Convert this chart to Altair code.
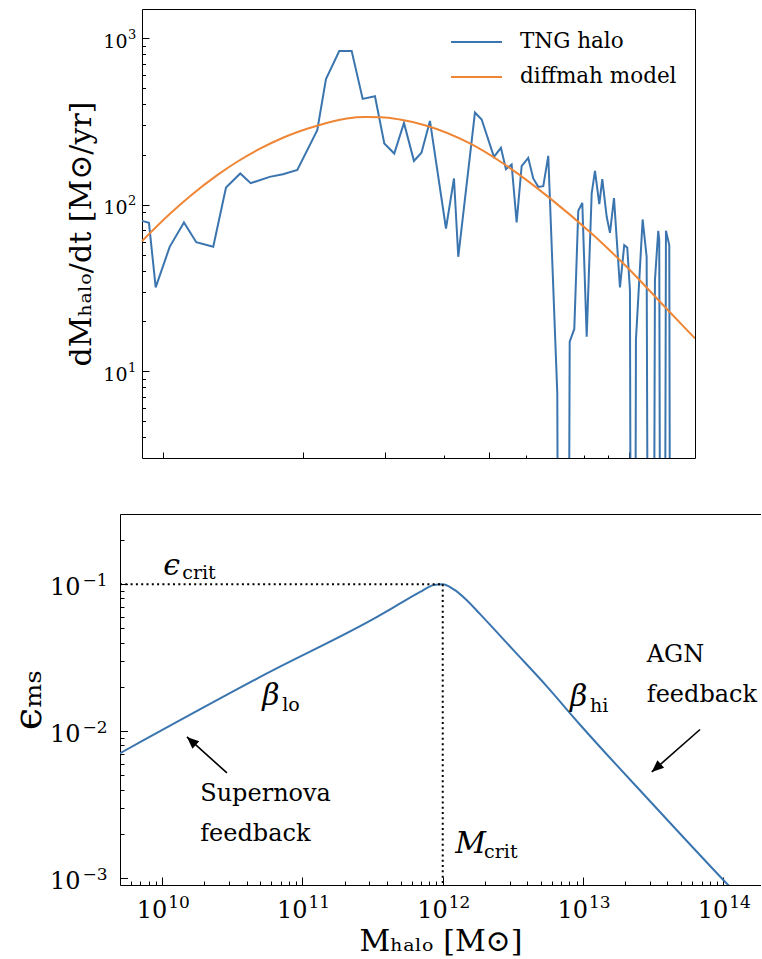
import altair as alt
import pandas as pd

# ---------------- top panel: halo mass accretion rate vs cosmic time ----------------
tng_time = [0.9015, 0.933, 0.9646, 1.0337, 1.1092, 1.1788, 1.2819, 1.3653, 1.4651, 1.5425,
            1.6941, 1.8094, 1.9422, 2.1434, 2.2376, 2.3893, 2.5406, 2.6827, 2.8506, 2.9853,
            3.1356, 3.2897, 3.4563, 3.5868, 3.7406, 4.0490, 4.2122, 4.3027, 4.6722, 4.8295,
            5.1318, 5.3123, 5.4451, 5.6005, 5.7410, 5.8843, 6.0795, 6.2321, 6.3884, 6.5487,
            6.7123, 7.0178, 7.1650, 7.3083, 7.4618, 7.6333, 7.7856, 7.9410, 8.1156, 8.3184,
            8.4552, 8.6369, 8.7659, 8.9587, 9.1060, 9.2879, 9.5652, 9.7705, 9.9163, 10.050,
            10.20, 10.352, 10.700, 10.914, 11.148, 11.371, 11.558, 11.615, 11.801, 12.007,
            12.205, 12.369, 12.8, 13.3, 13.86]
# 1e-6 marks snapshots with zero accretion (drawn below the axis, as in the original)
tng_rate = [79.9, 77.7, 31.8, 55.8, 78.2, 59.5, 55.8, 126.9, 153.9, 134.6,
            146.9, 152.5, 161.8, 280.2, 569.6, 839, 839, 432.0, 448.4, 233.2,
            203.0, 309.9, 183.3, 205.3, 318.6, 71.9, 143.7, 48.6, 357.9, 324.8,
            193.7, 219.4, 163.4, 174.4, 78.2, 170.3, 191.0, 143.7, 127.9, 129.2,
            196.4, 7.35, 1e-6, 1e-6, 15.0, 17.9, 91.8, 102.5, 16.1, 116.8,
            159.6, 100.7, 142.3, 84.5, 67.7, 109.4, 31.8, 57.1, 55.3, 30.6,
            1e-6, 15.4, 81.5, 48.6, 1e-6, 35.2, 69.6, 61.2, 1e-6, 69.6,
            57.1, 1e-6, 1e-6, 1e-6, 1e-6]

model_time = [0.9015, 1.0337, 1.1427, 1.3121, 1.4485, 1.6149, 1.8094, 2.1406, 2.4822, 2.7137,
              2.9373, 3.2253, 3.6493, 4.5580, 5.3729, 6.7123, 8.3837, 9.8869, 11.656, 13.86]
model_rate = [60.4, 87.9, 112.5, 151.4, 182.3, 216.9, 252.6, 298.2, 329.5, 336.3,
              335.4, 324.8, 300.2, 233.2, 176.8, 111.4, 65.6, 42.3, 26.1, 15.7]

series_names = ["TNG halo", "diffmah model"]

# ---------------- bottom panel: star-formation efficiency vs halo mass ----------------
halo_mass = [5.0e9, 5.575e10, 3.579e11, 4.970e11, 6.901e11, 8.586e11, 1.0e12, 1.192e12,
             1.485e12, 1.847e12, 3.191e12, 5.521e12, 9.535e12, 3.008e13, 1.088e14, 1.3e14]
efficiency = [0.00708, 0.0247, 0.0615, 0.0739, 0.0886, 0.0985, 0.100, 0.0925,
              0.0778, 0.0625, 0.0356, 0.0202, 0.01107, 0.003341, 0.000896, 0.00075]

crit_mass = [1.0e12]
crit_eff = [0.1]
mass_min = [5.0e9]
eff_min = [9.0e-4]

math_text = ["ϵ", "β", "β", "M"]
math_mass = [1.016e10, 5.16e10, 8.09e12, 1.226e12]
math_eff = [0.1151, 0.01503, 0.01479, 0.001479]
sub_text = ["crit", "lo", "hi", "crit"]
sub_mass = [1.389e10, 7.17e10, 1.123e13, 1.973e12]
sub_eff = [0.1081, 0.01368, 0.01347, 0.001368]

note_text = ["Supernova\nfeedback", "AGN\nfeedback"]
note_mass = [1.866e10, 2.849e13]
note_eff = [0.003342, 0.02947]

arrow_tail_mass = [2.893e10, 6.833e13]
arrow_tail_eff = [0.005204, 0.01027]
arrow_head_mass = [1.500e10, 3.094e13]
arrow_head_eff = [0.009146, 0.005285]

top_major_y = [10, 100, 1000]
top_minor_y = [4, 5, 6, 7, 8, 9, 20, 30, 40, 50, 60, 70, 80, 90,
               200, 300, 400, 500, 600, 700, 800, 900]
top_major_x = [1, 2, 3, 5, 10]
top_minor_x = [4, 6, 7, 8, 9]
bot_major_y = [1e-3, 1e-2, 1e-1]
bot_minor_y = [2e-3, 3e-3, 4e-3, 5e-3, 6e-3, 7e-3, 8e-3, 9e-3,
               2e-2, 3e-2, 4e-2, 5e-2, 6e-2, 7e-2, 8e-2, 9e-2, 0.2]
bot_major_x = [1e10, 1e11, 1e12, 1e13, 1e14]
bot_minor_x = [6e9, 7e9, 8e9, 9e9,
               2e10, 3e10, 4e10, 5e10, 6e10, 7e10, 8e10, 9e10,
               2e11, 3e11, 4e11, 5e11, 6e11, 7e11, 8e11, 9e11,
               2e12, 3e12, 4e12, 5e12, 6e12, 7e12, 8e12, 9e12,
               2e13, 3e13, 4e13, 5e13, 6e13, 7e13, 8e13, 9e13]

# ---------------- styling ----------------
BLUE = "#3b75af"
ORANGE = "#ee8636"
SERIF = "DejaVu Serif"
EXP = "format(round(log(datum.value) / LN10), 'd')"


def axis(**kw):
    base = dict(grid=False, title=None, labels=False, ticks=False, domain=False,
                domainColor="black", domainWidth=1, tickColor="black", tickWidth=1,
                labelColor="black", titleColor="black", labelFlush=False, labelOverlap=False)
    base.update(kw)
    return alt.Axis(**base)


# ================= top panel =================
TW, TH = 575, 449
x_top = alt.Scale(type="log", domain=[0.9015, 13.86], range=[22, TW], nice=False)
y_top = alt.Scale(type="log", domain=[3, 1500], nice=False)

ty_major = axis(orient="left", offset=-22, values=top_major_y, ticks=True, tickSize={"expr": "-7"},
                domain=True, labels=True, labelExpr="'10'", labelFont=SERIF, labelFontSize=19,
                labelAlign="right", labelBaseline="middle", labelPadding=22, labelOffset=3,
                title="dMₕₐₗₒ/dt [M⊙/yr]", titleFont=SERIF, titleFontSize=30,
                titleFontWeight="normal", titleAngle=270, titleX=-52, titleY=TH / 2,
                titleAlign="center", titleBaseline="alphabetic")
ty_exp = axis(orient="left", offset=-22, values=top_major_y, labels=True, labelExpr=EXP,
              labelFont=SERIF, labelFontSize=13, labelAlign="left", labelBaseline="middle",
              labelPadding=14.5, labelOffset=-4)
ty_minor = axis(orient="left", offset=-22, values=top_minor_y, ticks=True, tickSize={"expr": "-3.5"})
ty_right = axis(orient="right", domain=True)
tx_major = axis(orient="bottom", values=top_major_x, ticks=True, tickSize={"expr": "-6"}, domain=True)
tx_minor = axis(orient="bottom", values=top_minor_x, ticks=True, tickSize={"expr": "-3"})
tx_top = axis(orient="top", domain=True)

tng_df = pd.DataFrame({"t": tng_time, "rate": tng_rate, "series": series_names[0]})
mod_df = pd.DataFrame({"t": model_time, "rate": model_rate, "series": series_names[1]})


def tx(ax):
    return alt.X("t:Q", scale=x_top, axis=ax)


def ty(ax):
    return alt.Y("rate:Q", scale=y_top, axis=ax)


color = alt.Color(
    "series:N",
    scale=alt.Scale(domain=series_names, range=[BLUE, ORANGE]),
    legend=alt.Legend(orient="none", legendX=330, legendY=20.5, title=None, symbolType="stroke",
                      symbolSize=2601, symbolStrokeWidth=2, clipHeight=25, rowPadding=10,
                      labelFont=SERIF, labelFontSize=21.5, labelColor="black", labelOffset=17,
                      padding=0),
)

t1 = alt.Chart(tng_df).mark_line(strokeWidth=2, clip=True).encode(
    x=tx(tx_major), y=ty(ty_major), color=color)
t2 = alt.Chart(mod_df).mark_line(strokeWidth=2, clip=True, interpolate="monotone").encode(
    x=tx(tx_minor), y=ty(ty_exp), color=color)
t3 = alt.Chart(mod_df).mark_line(opacity=0).encode(x=tx(tx_top), y=ty(ty_minor))
t4 = alt.Chart(mod_df).mark_line(opacity=0).encode(x=tx(None), y=ty(ty_right))

top = alt.layer(t1, t2, t3, t4).resolve_axis(x="independent", y="independent").properties(
    width=TW, height=TH)

# ================= bottom panel =================
BW, BH = 641, 371
x_bot = alt.Scale(type="log", domain=[5e9, 1.859e14], nice=False)
y_bot = alt.Scale(type="log", domain=[9e-4, 0.3], nice=False)

by_major = axis(orient="left", values=bot_major_y, ticks=True, tickSize={"expr": "-7.5"},
                domain=True, labels=True, labelExpr="'10'", labelFont=SERIF, labelFontSize=24,
                labelAlign="right", labelBaseline="middle", labelPadding=47.5, labelOffset=3.5,
                title="ϵₘₛ", titleFont=SERIF, titleFontSize=40, titleFontWeight="normal",
                titleAngle=270, titleX=-80, titleY=BH / 2, titleAlign="center",
                titleBaseline="alphabetic")
by_exp = axis(orient="left", values=bot_major_y, labels=True, labelExpr=EXP, labelFont=SERIF,
              labelFontSize=17, labelAlign="left", labelBaseline="middle", labelPadding=38,
              labelOffset=-4)
by_minor = axis(orient="left", values=bot_minor_y, ticks=True, tickSize={"expr": "-4"})
bx_major = axis(orient="bottom", values=bot_major_x, ticks=True, tickSize={"expr": "-8"},
                domain=True, labels=True, labelExpr="'10'", labelFont=SERIF, labelFontSize=24,
                labelAlign="right", labelBaseline="alphabetic", labelPadding=40, labelOffset=4.5,
                title="Mₕₐₗₒ [M⊙]", titleFont=SERIF, titleFontSize=30, titleFontWeight="normal",
                titleX=BW / 2, titleY=65, titleAlign="center", titleBaseline="alphabetic")
bx_exp = axis(orient="bottom", values=bot_major_x, labels=True, labelExpr=EXP, labelFont=SERIF,
              labelFontSize=17, labelAlign="left", labelBaseline="alphabetic", labelPadding=22,
              labelOffset=5.5)
bx_minor = axis(orient="bottom", values=bot_minor_x, ticks=True, tickSize={"expr": "-4"})
bx_top = axis(orient="top", domain=True)

curve_df = pd.DataFrame({"M": halo_mass, "e": efficiency})
crit_df = pd.DataFrame({"M": crit_mass, "e": crit_eff, "M0": mass_min, "e0": eff_min})
math_df = pd.DataFrame({"M": math_mass, "e": math_eff, "txt": math_text})
sub_df = pd.DataFrame({"M": sub_mass, "e": sub_eff, "txt": sub_text})
note_df = pd.DataFrame({"M": note_mass, "e": note_eff, "txt": note_text})
arrow_df = pd.DataFrame({"M": arrow_tail_mass, "e": arrow_tail_eff,
                         "M2": arrow_head_mass, "e2": arrow_head_eff})


def bx(field, ax):
    return alt.X(field, type="quantitative", scale=x_bot, axis=ax)


def by(field, ax):
    return alt.Y(field, type="quantitative", scale=y_bot, axis=ax)


b1 = alt.Chart(curve_df).mark_line(color=BLUE, strokeWidth=2, clip=True,
                                   interpolate="monotone").encode(
    x=bx("M", bx_major), y=by("e", by_major))
b2 = alt.Chart(crit_df).mark_rule(color="black", strokeWidth=2, strokeDash=[2, 3.3]).encode(
    x=bx("M0", bx_exp), x2="M:Q", y=by("e", by_exp))
b3 = alt.Chart(crit_df).mark_rule(color="black", strokeWidth=2, strokeDash=[2, 3.3]).encode(
    x=bx("M", bx_minor), y=by("e", by_minor), y2="e0:Q")
b4 = alt.Chart(arrow_df).mark_rule(color="black", strokeWidth=1.6).encode(
    x=bx("M", bx_top), y=by("e", None), x2="M2:Q", y2="e2:Q")
HEAD = "M0,0 L-0.42,1 L0.42,1 Z"
b5 = alt.Chart(arrow_df.iloc[[0]]).mark_point(shape=HEAD, filled=True, size=576, angle=312,
                                               color="black", opacity=1).encode(
    x=bx("M2", None), y=by("e2", None))
b6 = alt.Chart(arrow_df.iloc[[1]]).mark_point(shape=HEAD, filled=True, size=576, angle=228.5,
                                               color="black", opacity=1).encode(
    x=bx("M2", None), y=by("e2", None))
b7 = alt.Chart(math_df).mark_text(align="left", baseline="alphabetic", font=SERIF, fontSize=30,
                                  fontStyle="italic", color="black").encode(
    x=bx("M", None), y=by("e", None), text="txt:N")
b8 = alt.Chart(sub_df).mark_text(align="left", baseline="alphabetic", font=SERIF, fontSize=19,
                                 color="black").encode(
    x=bx("M", None), y=by("e", None), text="txt:N")
b9 = alt.Chart(note_df).mark_text(align="left", baseline="alphabetic", font=SERIF, fontSize=24,
                                  lineBreak="\n", lineHeight=40, color="black").encode(
    x=bx("M", None), y=by("e", None), text="txt:N")

bottom = alt.layer(b1, b2, b3, b4, b5, b6, b7, b8, b9).resolve_axis(
    x="independent", y="independent").properties(width=BW, height=BH)

chart = alt.vconcat(top, bottom, spacing=56, bounds="flush").resolve_scale(
    color="independent").properties(
    padding={"left": 8, "right": 0, "top": 9, "bottom": 0}, background="white"
).configure_view(stroke=None)

chart.save("out.html", embed_options={"renderer": "svg", "actions": False})
